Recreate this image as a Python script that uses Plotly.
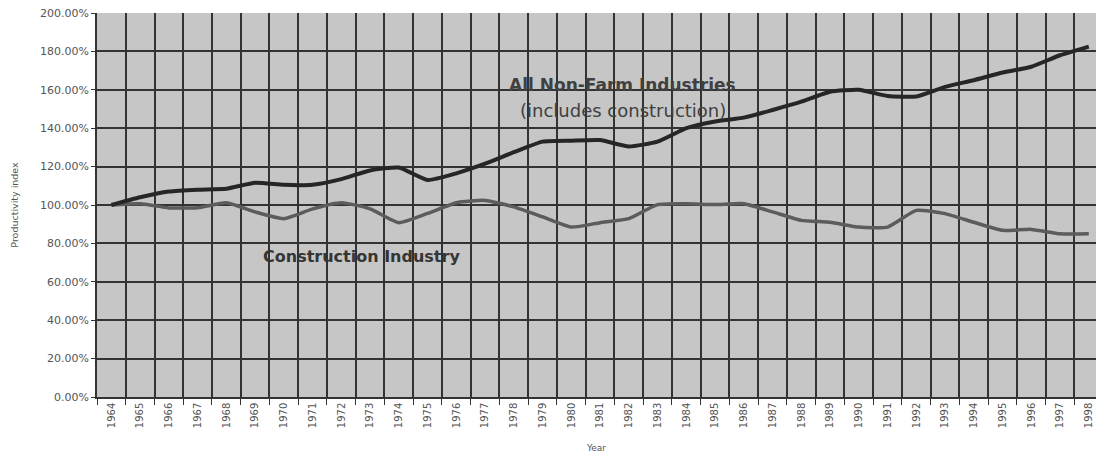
import plotly.graph_objects as go

years = [str(y) for y in range(1964, 1999)]

non_farm = [100, 104, 107, 108, 108.5, 111.6, 110.5, 110.6, 113.5, 118, 119.5,
            113, 116.5, 121.5, 127.5, 133, 133.5, 133.8, 130.5, 133, 140,
            143.5, 145.5, 149.5, 153.8, 159, 160, 156.8, 156.5, 161.5, 165,
            169, 172, 178, 182.5]

construction = [100, 100.7, 98.5, 98.6, 101.2, 96.4, 92.9, 98, 101.2, 98, 90.8,
                95.6, 101.2, 102.4, 99, 93.8, 88.5, 90.8, 92.9, 100.2, 100.7,
                100.2, 100.7, 96.4, 92, 91, 88.5, 88.5, 97.2, 95.5, 91,
                86.8, 87.3, 85, 85]

y_ticks = [0, 20, 40, 60, 80, 100, 120, 140, 160, 180, 200]
y_tick_text = [f"{v:.2f}%" for v in y_ticks]

fig = go.Figure()
fig.add_trace(go.Scatter(x=years, y=construction, mode="lines",
                         line=dict(color="#5c5c5c", width=3.5, shape="spline", smoothing=0.5),
                         name="Construction Industry", showlegend=False))
fig.add_trace(go.Scatter(x=years, y=non_farm, mode="lines",
                         line=dict(color="#262626", width=4, shape="spline", smoothing=0.5),
                         name="All Non-Farm Industries", showlegend=False))

fig.add_annotation(x=0.5265, y=0.812, xref="paper", yref="paper", yanchor="middle",
                   xanchor="center", text="<b>All Non-Farm Industries</b>",
                   showarrow=False, font=dict(family="DejaVu Sans", size=17, color="#404040"))
fig.add_annotation(x=0.5265, y=0.747, xref="paper", yref="paper", yanchor="middle",
                   xanchor="center", text="(includes construction)",
                   showarrow=False, font=dict(family="DejaVu Sans", size=18, color="#404040"))
fig.add_annotation(x=0.265, y=0.365, xref="paper", yref="paper", yanchor="middle",
                   xanchor="center", text="<b>Construction Industry</b>",
                   showarrow=False, font=dict(family="DejaVu Sans", size=16, color="#353535"))

fig.update_layout(
    width=1096, height=454,
    margin=dict(l=97, r=0, t=13, b=57, autoexpand=False),
    paper_bgcolor="white",
    plot_bgcolor="#c6c6c6",
    font=dict(family="DejaVu Sans", color="#555555"),
    xaxis=dict(
        type="category", range=[-0.5, 34.25], automargin=False,
        tickson="boundaries", ticks="outside", ticklen=6, tickcolor="#333333",
        tickangle=-90, tickfont=dict(size=10, color="#555555"),
        showgrid=True, gridcolor="#333333", gridwidth=1.5,
        showline=True, linecolor="#333333", linewidth=1.5,
        title=dict(text="Year", font=dict(size=9, color="#555555"), standoff=17),
    ),
    yaxis=dict(
        range=[0, 200], tickvals=y_ticks, ticktext=y_tick_text, automargin=False,
        tickfont=dict(size=11, color="#555555"),
        showgrid=True, gridcolor="#333333", gridwidth=1.5,
        ticks="outside", ticklen=4, tickcolor="#333333",
        showline=True, linecolor="#333333", linewidth=1.5,
        zeroline=False,
        title=dict(text="Productivity index", font=dict(size=9.5, color="#555555"), standoff=20),
    ),
)

fig.write_html("out.html", config={"displayModeBar": False},
               post_script="document.body.style.margin='0';document.body.style.overflow='hidden';")
